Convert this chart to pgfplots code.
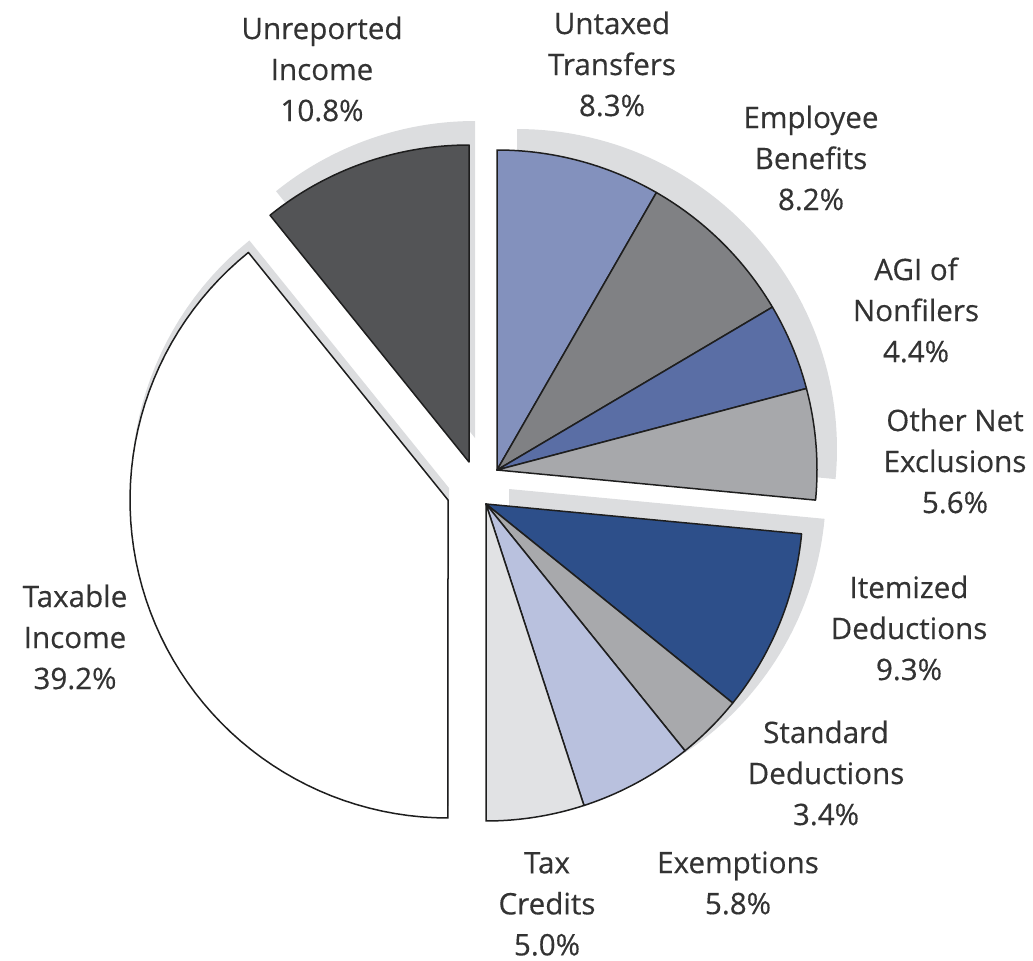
\documentclass[border=0pt]{standalone}
\usepackage{pgfplots}
\pgfplotsset{compat=1.18}
\usepackage{fontspec}
\setmainfont{Open Sans}
\newfontfamily\labfont[FakeBold=0.35]{Open Sans}
\definecolor{txt}{HTML}{333333}
\definecolor{edge}{HTML}{1E1E1E}
\definecolor{shade}{HTML}{DCDDDF}
\definecolor{cUnrep}{HTML}{535456}
\definecolor{cUntax}{HTML}{8391BD}
\definecolor{cEmpl}{HTML}{808184}
\definecolor{cAGI}{HTML}{5A6EA5}
\definecolor{cOther}{HTML}{A7A8AB}
\definecolor{cItem}{HTML}{2D4F8A}
\definecolor{cStd}{HTML}{A8A9AC}
\definecolor{cExem}{HTML}{B9C1DE}
\definecolor{cCred}{HTML}{E1E2E4}
\definecolor{cTax}{HTML}{FFFFFF}
\tikzset{lab/.style={font=\labfont\fontsize{14.8}{20.5}\selectfont, text=txt, align=center, inner sep=0pt}}
% running total of percentages (slices run clockwise from 12 o'clock)
\xdef\cum{0}
% #1 cx, #2 cy, #3 radius, #4 percent, #5 colour
\newcommand\slice[5]{%
  \pgfmathsetmacro\aS{90-3.6*\cum}%
  \pgfmathsetmacro\aE{90-3.6*(\cum+#4)}%
  \pgfmathsetmacro\newcum{\cum+#4}\xdef\cum{\newcum}%
  \edef\next{\noexpand\addplot[draw=edge, line width=0.75pt, line join=round,
     fill=#5, domain=\aE:\aS, samples=60]
     ({#1+#3*cos(x)},{#2+#3*sin(x)}) -- (axis cs:#1,#2) -- cycle;}\next}
% shadow: #1 cx, #2 cy, #3 r, #4 start cum percent, #5 end cum percent
\newcommand\shadow[5]{%
  \pgfmathsetmacro\aS{90-3.6*#4}%
  \pgfmathsetmacro\aE{90-3.6*#5}%
  \edef\next{\noexpand\addplot[draw=none, fill=shade, domain=\aE:\aS, samples=60]
     ({#1+#3*cos(x)},{#2+#3*sin(x)}) -- (axis cs:#1,#2) -- cycle;}\next}
\begin{document}
\begin{tikzpicture}
\begin{axis}[scale only axis, width=516.5pt, height=480pt,
  xmin=0, xmax=1033, ymin=0, ymax=960, hide axis, clip=false]
\addplot[draw=none] coordinates {(0,0) (1033,960)};
% shadows
\shadow{517}{511}{320}{0}{26.5}
\shadow{509}{471}{317}{26.5}{50}
\shadow{449}{472}{318}{50}{89.2}
\shadow{475}{522}{317}{89.2}{100}
% group 1: exclusions
\slice{497}{490}{320}{8.3}{cUntax}
\slice{497}{490}{320}{8.2}{cEmpl}
\slice{497}{490}{320}{4.4}{cAGI}
\slice{497}{490}{320}{5.6}{cOther}
% group 2: deductions
\slice{486}{456}{317}{9.3}{cItem}
\slice{486}{456}{317}{3.4}{cStd}
\slice{486}{456}{317}{5.8}{cExem}
\slice{486}{456}{317}{5.0}{cCred}
% taxable income
\slice{448}{460}{318}{39.2}{cTax}
% unreported income
\slice{469}{498}{317}{10.8}{cUnrep}
% labels
\node[lab] at (axis cs:322,891) {Unreported\\Income\\10.8\%};
\node[lab] at (axis cs:612,896) {Untaxed\\Transfers\\8.3\%};
\node[lab] at (axis cs:811,802) {Employee\\Benefits\\8.2\%};
\node[lab] at (axis cs:916,650) {AGI of\\Nonfilers\\4.4\%};
\node[lab] at (axis cs:955,499) {Other Net\\Exclusions\\5.6\%};
\node[lab] at (axis cs:909,332) {Itemized\\Deductions\\9.3\%};
\node[lab] at (axis cs:826,187) {Standard\\Deductions\\3.4\%};
\node[lab] at (axis cs:738,77) {Exemptions\\5.8\%};
\node[lab] at (axis cs:547,56) {Tax\\Credits\\5.0\%};
\node[lab] at (axis cs:75,323) {Taxable\\Income\\39.2\%};
\end{axis}
\end{tikzpicture}
\end{document}
